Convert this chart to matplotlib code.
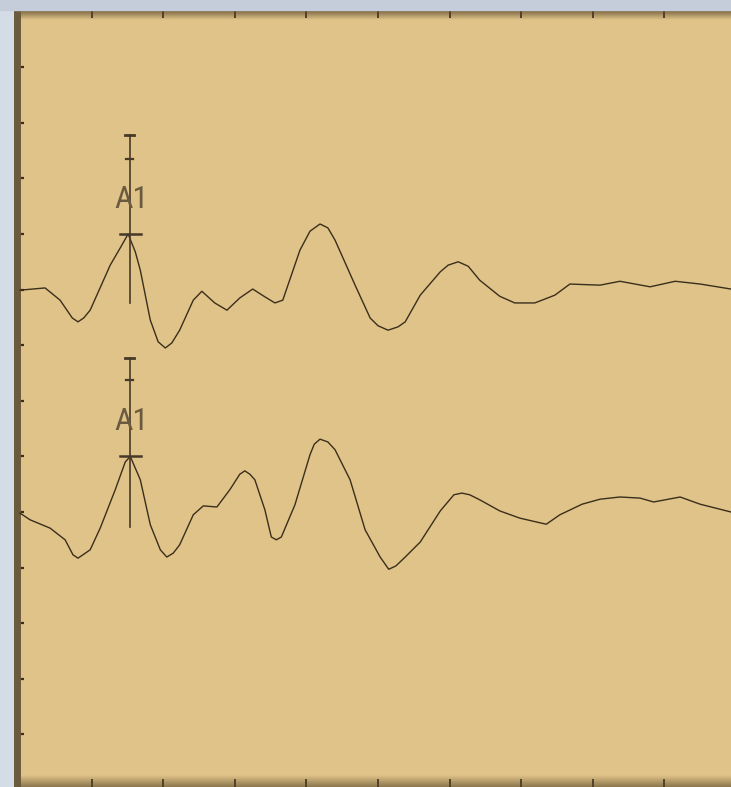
import numpy as np
import matplotlib
matplotlib.use("Agg")
import matplotlib.pyplot as plt
from matplotlib import font_manager

# ---- data (x in divisions, y in divisions from bottom) ----
t1_x = [0.00, 0.35, 0.56, 0.73, 0.81, 0.89, 0.98, 1.26, 1.40, 1.51, 1.61, 1.68, 1.82, 1.93,
        2.03, 2.12, 2.23, 2.42, 2.54, 2.72, 2.89, 3.07, 3.25, 3.42, 3.56, 3.67, 3.91, 4.05,
        4.19, 4.30, 4.40, 4.68, 4.89, 5.00, 5.14, 5.28, 5.38, 5.59, 5.87, 5.98, 6.12, 6.26,
        6.42, 6.70, 6.91, 7.19, 7.47, 7.68, 8.10, 8.38, 8.80, 9.15, 9.50, 9.93, 10.0]
t1_y = [8.99, 9.03, 8.81, 8.49, 8.42, 8.49, 8.63, 9.44, 9.75, 10.00, 9.68, 9.35, 8.45, 8.06,
        7.95, 8.04, 8.27, 8.81, 8.97, 8.76, 8.63, 8.85, 9.01, 8.87, 8.76, 8.81, 9.71, 10.05,
        10.18, 10.11, 9.89, 9.08, 8.49, 8.35, 8.27, 8.33, 8.42, 8.90, 9.32, 9.44, 9.50, 9.42,
        9.17, 8.88, 8.76, 8.76, 8.90, 9.10, 9.08, 9.15, 9.05, 9.15, 9.10, 9.01, 8.99]

t2_x = [0.00, 0.14, 0.42, 0.63, 0.74, 0.81, 0.89, 0.98, 1.12, 1.33, 1.47, 1.54, 1.68, 1.82,
        1.96, 2.05, 2.14, 2.23, 2.42, 2.56, 2.75, 2.93, 3.07, 3.14, 3.21, 3.28, 3.42, 3.51,
        3.58, 3.65, 3.84, 4.05, 4.11, 4.19, 4.30, 4.40, 4.61, 4.82, 5.03, 5.15, 5.25, 5.38,
        5.59, 5.87, 6.06, 6.17, 6.28, 6.42, 6.70, 6.98, 7.35, 7.54, 7.85, 8.10, 8.38, 8.66,
        8.85, 9.22, 9.50, 9.93, 10.0]
t2_y = [4.98, 4.86, 4.71, 4.50, 4.23, 4.17, 4.24, 4.32, 4.71, 5.40, 5.90, 6.00, 5.58, 4.77,
        4.32, 4.19, 4.26, 4.41, 4.95, 5.11, 5.09, 5.40, 5.68, 5.74, 5.68, 5.58, 5.04, 4.55,
        4.50, 4.55, 5.13, 6.03, 6.22, 6.31, 6.26, 6.12, 5.58, 4.68, 4.19, 3.97, 4.03, 4.19,
        4.46, 5.02, 5.31, 5.34, 5.31, 5.22, 5.02, 4.89, 4.78, 4.95, 5.14, 5.23, 5.27, 5.25,
        5.18, 5.27, 5.14, 5.00, 4.96]

marker_label = "A1"
marker_x = [1.53, 1.53]
marker_level = [10.00, 6.00]
marker_cap_hi = [11.78, 7.77]
marker_cap_lo = [11.35, 7.37]
marker_text_y = [10.62, 6.63]
marker_bottom = [8.76, 4.73]

x_ticks = [1, 2, 3, 4, 5, 6, 7, 8, 9]
y_ticks = [1, 2, 3, 4, 5, 6, 7, 8, 9, 10, 11, 12, 13]

# pick a narrow font if one is installed
_names = {f.name for f in font_manager.fontManager.ttflist}
_narrow = None
for cand in ["Liberation Sans Narrow", "DejaVu Sans Condensed", "Roboto Condensed",
             "Open Sans Condensed"]:
    if cand in _names:
        _narrow = cand
        break
label_family = _narrow if _narrow else "DejaVu Sans"
label_size = 23 if _narrow else 20

# ---- figure ----
W, H = 731, 787
fig = plt.figure(figsize=(W / 100, H / 100), dpi=100)
fig.patch.set_facecolor("#d4dde7")
fig.patches.append(plt.Rectangle((0, 1 - 10 / H), 1, 10 / H, transform=fig.transFigure,
                                 color="#c6cdda", zorder=0))

left_px = 16.5
ax = fig.add_axes([left_px / W, 0, 1 - left_px / W, 777 / H])
bg = "#e0c388"
ax.set_facecolor(bg)

line_c = "#3a2e1c"
ax.plot(t1_x, t1_y, color=line_c, lw=1.0, zorder=3)
ax.plot(t2_x, t2_y, color=line_c, lw=1.0, zorder=3)

mk_c = "#47392a"
for mx, lv, ch, cl, ty, bt in zip(marker_x, marker_level, marker_cap_hi, marker_cap_lo,
                                  marker_text_y, marker_bottom):
    ax.plot([mx, mx], [bt, ch], color=mk_c, lw=1.2, zorder=4)
    ax.plot([mx - 0.065, mx + 0.065], [ch, ch], color=mk_c, lw=2.0, zorder=4)
    ax.plot([mx - 0.055, mx + 0.055], [cl, cl], color=mk_c, lw=1.6, zorder=4)
    ax.plot([mx - 0.13, mx + 0.16], [lv, lv], color=mk_c, lw=1.8, zorder=4)
    ax.text(mx + 0.02, ty, marker_label, ha="center", va="center", fontsize=label_size,
            family=label_family, color="#6a5a40", zorder=5)

ax.set_xticks(x_ticks)
ax.set_yticks(y_ticks)
ax.tick_params(axis="x", which="both", direction="in", top=True, bottom=True,
               length=6, width=1.2, color="#3a2e1c", labelbottom=False, labeltop=False)
ax.tick_params(axis="y", which="both", direction="in", left=True, right=False,
               length=5, width=1.6, color="#3a2e1c", labelleft=False)

ax.spines["right"].set_visible(False)
ax.spines["bottom"].set_visible(False)
ax.spines["left"].set_color("#6b5b3c")
ax.spines["left"].set_linewidth(5)
ax.spines["top"].set_color("#3f3322")
ax.spines["top"].set_linewidth(1.5)


def grad_rgba(n, rgb, a0, a1):
    a = np.linspace(a0, a1, n)
    arr = np.zeros((n, 1, 4))
    arr[:, 0, :3] = rgb
    arr[:, 0, 3] = a
    return arr


dark = np.array([0.33, 0.26, 0.15])
ax.imshow(grad_rgba(32, dark, 0.75, 0.0), extent=[0, 1, 1 - 10 / 777, 1],
          transform=ax.transAxes, aspect="auto", zorder=2, interpolation="bilinear")
ax.imshow(grad_rgba(32, dark, 0.0, 0.6), extent=[0, 1, 0, 12 / 777],
          transform=ax.transAxes, aspect="auto", zorder=2, interpolation="bilinear")
ax.set_xlim((left_px - 20) / 71.6, (W - 20) / 71.6)
ax.set_ylim(3 / 55.6, 780 / 55.6)

fig.savefig("out.png", dpi=100, facecolor=fig.get_facecolor())
